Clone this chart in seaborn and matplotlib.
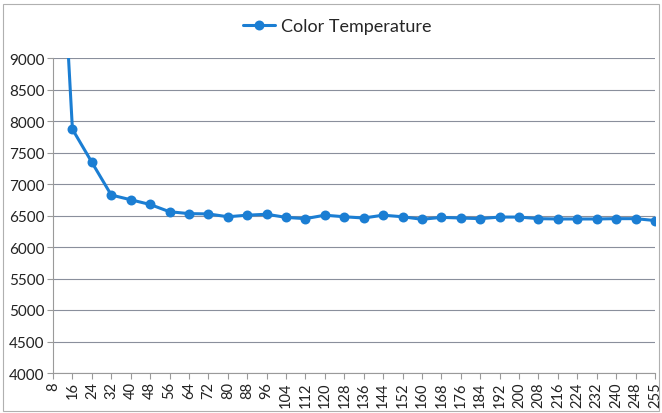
import pandas as pd
import numpy as np
import seaborn as sns
import matplotlib.pyplot as plt
from matplotlib.patches import Rectangle

# ---- DATA ----
levels = ["8", "16", "24", "32", "40", "48", "56", "64", "72", "80", "88", "96",
          "104", "112", "120", "128", "136", "144", "152", "160", "168", "176",
          "184", "192", "200", "208", "216", "224", "232", "240", "248", "255"]
color_temp = [13500, 7870, 7345, 6825, 6750, 6675, 6560, 6530, 6525, 6480, 6505, 6520,
              6470, 6450, 6505, 6480, 6460, 6505, 6480, 6440, 6470, 6460,
              6450, 6475, 6475, 6450, 6445, 6445, 6445, 6450, 6450, 6420]

df = pd.DataFrame({"level": levels, "temp": color_temp})

blue = "#1b7ed3"
grid_col = "#8a8f9c"

sns.set_style("white")
plt.rcParams['font.family'] = ['Lato', 'DejaVu Sans']

fig = plt.figure(figsize=(6.62, 4.14), dpi=100)
ax = fig.add_axes([53 / 662, 1 - 374 / 414, (655 - 53) / 662, (374 - 59) / 414])

sns.pointplot(data=df, x="level", y="temp", order=levels, color=blue,
              markers="o", linestyles="-", markersize=5.5, linewidth=2.2,
              label="Color Temperature", ax=ax, clip_on=True)

ax.set_ylim(4000, 9000)
ax.set_xlim(0, len(levels) - 1)
ax.set_yticks(np.arange(4000, 9001, 500))
ax.yaxis.grid(True, color=grid_col, linewidth=0.8)
ax.set_axisbelow(True)
ax.set_xlabel("")
ax.set_ylabel("")

for s in ["top", "right"]:
    ax.spines[s].set_visible(False)
ax.spines["left"].set_color("#9a9a9a")
ax.spines["bottom"].set_color("#9a9a9a")

ax.tick_params(axis="x", rotation=90, labelsize=10.5, length=4, color="#9a9a9a",
               direction="out", bottom=True, pad=2)
ax.tick_params(axis="y", labelsize=11, length=4, color="#9a9a9a",
               direction="out", left=True, pad=2)
for t in ax.get_yticklabels() + ax.get_xticklabels():
    t.set_color("#222222")

if ax.get_legend() is not None:
    ax.get_legend().remove()
handles, labs = ax.get_legend_handles_labels()
fig.legend(handles[:1], labs[:1], loc="center", bbox_to_anchor=(337 / 662, 1 - 27 / 414),
           frameon=False, fontsize=13, handlelength=1.8, handletextpad=0.3)

# outer chart frame
fig.patches.append(Rectangle((0.004, 0.005), 0.992, 0.982, transform=fig.transFigure,
                             fill=False, edgecolor="#b0b0b0", linewidth=0.8))

fig.savefig("out.png", dpi=100)
